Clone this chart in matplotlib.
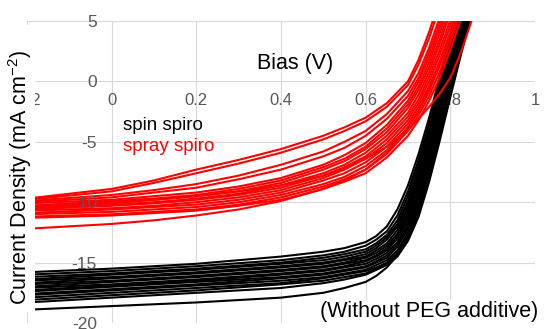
import numpy as np
import matplotlib

matplotlib.use('Agg')

import matplotlib.pyplot as plt
from matplotlib.patches import Rectangle

plt.rcParams['font.family'] = 'Liberation Sans'
plt.rcParams['mathtext.fontset'] = 'custom'
plt.rcParams['mathtext.rm'] = 'Liberation Sans'
plt.rcParams['mathtext.it'] = 'Liberation Sans:italic'
plt.rcParams['axes.unicode_minus'] = False

# bias points (V) and current density (mA cm-2)
volts_spin = [-0.2, 0.0, 0.2, 0.4, 0.5, 0.55, 0.6, 0.625, 0.65, 0.675, 0.7, 0.725, 0.75, 0.775, 0.8, 0.825, 0.85]
spin_curves = [
    [-15.8, -15.5, -15.1, -14.5, -14.1, -13.8, -13.3, -12.8, -12.0, -10.6, -8.6, -6.0, -3.0, 0.4, 3.8, 7.2, 10.5],
    [-16.0, -15.7, -15.3, -14.8, -14.4, -14.1, -13.6, -13.1, -12.4, -11.1, -9.1, -6.5, -3.5, -0.1, 3.3, 6.7, 10.0],
    [-16.2, -15.9, -15.5, -15.0, -14.6, -14.3, -13.9, -13.4, -12.7, -11.5, -9.5, -6.9, -3.9, -0.5, 3.0, 6.4, 9.8],
    [-16.4, -16.0, -15.6, -15.1, -14.8, -14.5, -14.1, -13.6, -12.9, -11.8, -9.9, -7.3, -4.2, -0.8, 2.7, 6.1, 9.5],
    [-16.5, -16.2, -15.8, -15.3, -15.0, -14.7, -14.3, -13.8, -13.1, -12.0, -10.2, -7.6, -4.5, -1.1, 2.4, 5.8, 9.2],
    [-16.7, -16.3, -15.9, -15.4, -15.1, -14.8, -14.5, -14.0, -13.4, -12.3, -10.5, -8.0, -4.9, -1.4, 2.1, 5.6, 9.0],
    [-16.8, -16.5, -16.1, -15.6, -15.3, -15.0, -14.6, -14.2, -13.6, -12.6, -10.8, -8.3, -5.2, -1.7, 1.9, 5.3, 8.8],
    [-17.0, -16.6, -16.2, -15.7, -15.4, -15.1, -14.8, -14.4, -13.8, -12.8, -11.1, -8.6, -5.5, -2.0, 1.6, 5.0, 8.5],
    [-17.1, -16.8, -16.4, -15.9, -15.6, -15.3, -14.9, -14.5, -14.0, -13.0, -11.4, -8.9, -5.8, -2.3, 1.3, 4.8, 8.2],
    [-17.3, -16.9, -16.5, -16.0, -15.7, -15.4, -15.1, -14.7, -14.2, -13.3, -11.7, -9.3, -6.2, -2.7, 0.9, 4.4, 7.8],
    [-17.4, -17.0, -16.6, -16.2, -15.9, -15.6, -15.3, -14.9, -14.4, -13.5, -12.0, -9.6, -6.5, -3.0, 0.6, 4.1, 7.5],
    [-17.6, -17.2, -16.8, -16.3, -16.0, -15.7, -15.4, -15.0, -14.6, -13.7, -12.2, -9.9, -6.9, -3.4, 0.2, 3.7, 7.1],
    [-17.7, -17.3, -16.9, -16.5, -16.2, -15.9, -15.6, -15.2, -14.8, -14.0, -12.5, -10.2, -7.2, -3.7, -0.1, 3.4, 6.8],
    [-17.9, -17.5, -17.1, -16.7, -16.3, -16.0, -15.7, -15.4, -15.0, -14.2, -12.8, -10.6, -7.6, -4.1, -0.5, 3.0, 6.4],
    [-18.1, -17.7, -17.3, -16.8, -16.5, -16.2, -15.9, -15.5, -15.1, -14.4, -13.0, -10.9, -8.0, -4.5, -0.9, 2.6, 6.0],
    [-18.3, -17.9, -17.5, -17.1, -16.7, -16.4, -16.0, -15.6, -15.2, -14.5, -13.2, -11.2, -8.3, -4.9, -1.3, 2.2, 5.6],
    [-18.9, -18.6, -18.3, -17.9, -17.5, -17.1, -16.6, -16.1, -15.4, -14.4, -12.8, -10.5, -7.5, -4.0, -0.4, 3.1, 6.5],
]

volts_spray = [-0.2, 0.0, 0.1, 0.2, 0.3, 0.4, 0.5, 0.55, 0.6, 0.65, 0.7, 0.725, 0.75, 0.775, 0.8, 0.825, 0.85]
spray_curves = [
    [-9.7, -8.9, -8.2, -7.3, -6.5, -5.6, -4.5, -3.8, -3.0, -1.8, 0.0, 1.8, 4.1, 6.8, 9.5, 12.3, 15.0],
    [-9.8, -9.1, -8.4, -7.6, -6.8, -5.9, -4.8, -4.1, -3.3, -2.1, -0.3, 1.4, 3.6, 6.2, 8.9, 11.6, 14.3],
    [-9.9, -9.4, -9.0, -8.5, -7.8, -6.9, -5.8, -5.0, -4.1, -2.7, -0.8, 0.7, 2.8, 5.3, 8.0, 10.7, 13.4],
    [-10.0, -9.6, -9.2, -8.8, -8.1, -7.3, -6.2, -5.5, -4.5, -3.1, -1.2, 0.3, 2.4, 4.8, 7.5, 10.2, 12.9],
    [-10.1, -9.8, -9.5, -9.2, -8.7, -8.0, -6.9, -6.1, -5.1, -3.6, -1.6, 0.0, 2.0, 4.4, 7.0, 9.7, 12.4],
    [-10.3, -9.9, -9.7, -9.4, -8.9, -8.2, -7.1, -6.4, -5.4, -3.9, -1.9, -0.4, 1.6, 4.0, 6.6, 9.3, 12.0],
    [-10.4, -10.1, -9.8, -9.5, -9.1, -8.4, -7.3, -6.6, -5.6, -4.2, -2.2, -0.7, 1.2, 3.5, 6.1, 8.8, 11.5],
    [-10.5, -10.2, -10.0, -9.7, -9.3, -8.6, -7.6, -6.9, -5.9, -4.5, -2.6, -1.1, 0.8, 3.1, 5.7, 8.3, 11.0],
    [-10.6, -10.3, -10.1, -9.8, -9.4, -8.8, -7.8, -7.1, -6.2, -4.8, -2.9, -1.5, 0.4, 2.6, 5.1, 7.7, 10.4],
    [-10.7, -10.5, -10.3, -10.0, -9.6, -9.0, -8.0, -7.3, -6.4, -5.1, -3.2, -1.8, 0.0, 2.2, 4.6, 7.2, 9.9],
    [-10.9, -10.6, -10.4, -10.2, -9.8, -9.2, -8.2, -7.6, -6.7, -5.4, -3.5, -2.1, -0.4, 1.7, 4.1, 6.7, 9.4],
    [-11.0, -10.8, -10.6, -10.4, -10.0, -9.4, -8.5, -7.9, -7.0, -5.7, -3.8, -2.5, -0.8, 1.3, 3.7, 6.2, 8.9],
    [-11.2, -11.0, -10.8, -10.6, -10.2, -9.6, -8.7, -8.1, -7.3, -6.0, -4.1, -2.8, -1.2, 0.8, 3.2, 5.8, 8.4],
    [-11.3, -11.1, -10.9, -10.7, -10.3, -9.8, -8.9, -8.3, -7.6, -6.3, -4.5, -3.2, -1.6, 0.3, 2.6, 5.1, 7.8],
    [-10.4, -10.0, -9.8, -9.5, -9.1, -8.6, -7.8, -7.2, -6.4, -5.4, -4.0, -3.1, -2.1, -1.0, 0.3, 2.4, 5.0],
    [-12.2, -11.8, -11.5, -11.1, -10.6, -9.9, -8.9, -8.2, -7.3, -5.9, -3.8, -2.4, -0.6, 1.5, 3.9, 6.4, 9.1],
]

x_ticks = [-0.2, 0.0, 0.2, 0.4, 0.6, 0.8, 1.0]
x_labels = ['-0.2', '0', '0.2', '0.4', '0.6', '0.8', '1']
y_ticks = [-20, -15, -10, -5, 0, 5]

grid_col = '#d9d9d9'
tick_col = '#595959'

W, H = 547, 329
AX_L, AX_B, AX_W, AX_H = 27, 6, 508, 302   # axes box in pixels
fig = plt.figure(figsize=(W / 100, H / 100), dpi=100)
ax = fig.add_axes([AX_L / W, AX_B / H, AX_W / W, AX_H / H])

# grid drawn by hand so the y tick labels can sit above the curves
for v in x_ticks:
    ax.axvline(v, color=grid_col, lw=0.8, zorder=0)
for j in y_ticks:
    ax.axhline(j, color=grid_col, lw=0.8, zorder=0)

for c in spin_curves:
    ax.plot(volts_spin, c, color='black', lw=1.5, zorder=2)
for c in spray_curves:
    ax.plot(volts_spray, c, color='red', lw=1.5, zorder=2)

ax.set_xlim(-0.2, 1.0)
ax.set_ylim(-20, 5)
ax.set_xticks(x_ticks, x_labels)
ax.set_yticks(y_ticks)
for s in ax.spines.values():
    s.set_visible(False)
ax.spines['bottom'].set_position(('data', 0))
ax.tick_params(axis='x', length=0, pad=8, labelsize=12, labelcolor=tick_col)
ax.tick_params(axis='y', length=0, pad=-50.4, labelsize=12.5, labelcolor=tick_col)
ax.xaxis.set_zorder(1.5)
ax.yaxis.set_zorder(3)

ax.text((123 - AX_L) / AX_W, (H - AX_B - 125) / AX_H, 'spin spiro', transform=ax.transAxes,
        ha='left', va='center', fontsize=13.5, color='black')
ax.text((123 - AX_L) / AX_W, (H - AX_B - 146) / AX_H, 'spray spiro', transform=ax.transAxes,
        ha='left', va='center', fontsize=13.5, color='red')

# white strip behind the y label (hides the left end of the curves)
fig.patches.append(Rectangle((0, 17 / H), 35 / W, 287 / H, transform=fig.transFigure,
                             facecolor='white', edgecolor='none', zorder=5))
fig.text(20 / W, 1 - 177 / H, 'Current Density (mA cm$^{-2}$)', rotation=90,
         ha='center', va='center', fontsize=15.5, zorder=6)
fig.text(295 / W, 1 - 63 / H, 'Bias (V)', ha='center', va='center', fontsize=15.5, zorder=6)
fig.text(538 / W, 1 - 312 / H, '(Without PEG additive)', ha='right', va='center',
         fontsize=15.5, zorder=6,
         bbox=dict(facecolor='white', edgecolor='none', pad=1))

fig.savefig('out.png', dpi=100)
